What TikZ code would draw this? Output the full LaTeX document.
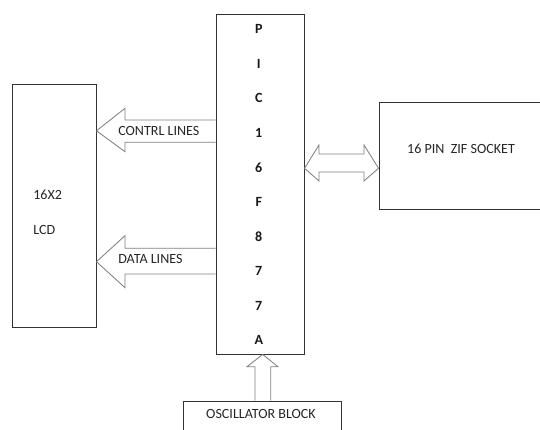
\documentclass[tikz,border=0pt]{standalone}
\usepackage{fontspec}
\setmainfont{Carlito}
\usetikzlibrary{calc}

\begin{document}
\begin{tikzpicture}[
  block/.style={rectangle,draw=black!80,line width=0.7pt,inner sep=0pt},
  lbl/.style={font=\fontsize{10}{12}\selectfont,text=black!85,inner sep=0pt},
  pinlbl/.style={font=\fontsize{10}{12}\selectfont\bfseries,text=black!90,inner sep=0pt},
  fat/.style={draw=gray,line width=0.6pt,line join=miter}
]
\useasboundingbox (0,0) rectangle (13.5,-10.75);
\node[block,minimum width=2.2cm,minimum height=8.5cm]    (pic) at (6.5,-4.6) {};
\node[block,minimum width=2.1cm,minimum height=6.075cm]  (lcd) at (1.35,-5.1375) {};
\node[block,minimum width=4.3cm,minimum height=2.675cm]  (zif) at (11.625,-3.8875) {};
\node[block,minimum width=3.95cm,minimum height=1.0cm]   (osc) at (6.55,-10.525) {};

\foreach \ch [count=\i from 0] in {P,I,C,1,6,F,8,7,7,A}
  \node[pinlbl] (pin\i) at (6.47,-0.725-0.865*\i) {\ch};

\node[lbl,anchor=west] (lcdtop) at (0.825,-4.875) {16X2};
\node[lbl,anchor=west] (lcdbot) at (0.825,-5.75) {LCD};
\node[lbl] (ziftxt) at (11.525,-3.725) {16 PIN\ \ ZIF SOCKET};
\node[lbl] (osctxt) at (6.525,-10.35) {OSCILLATOR BLOCK};

\coordinate (ctip) at (lcd.east |- 0,-3.27);
\draw[fat] (pic.west |- 0,-3.0) -- (3.125,-3.0) -- (3.125,-2.7075) -- (ctip)
  -- (3.125,-3.7925) -- (3.125,-3.5575) -- (pic.west |- 0,-3.5575);
\node[lbl,anchor=west] (ctrltxt) at (2.95,-3.275) {CONTRL LINES};

\coordinate (dtip) at (lcd.east |- 0,-6.5425);
\draw[fat] (pic.west |- 0,-6.2075) -- (3.125,-6.2075) -- (3.125,-5.8925) -- (dtip)
  -- (3.125,-7.1925) -- (3.125,-6.85) -- (pic.west |- 0,-6.85);
\node[lbl,anchor=west] (datatxt) at (2.95,-6.475) {DATA LINES};

\coordinate (zl) at (pic.east |- 0,-4.2075);
\coordinate (zr) at (zif.west |- 0,-4.2075);
\draw[fat] (zl) -- (7.975,-3.625) -- (7.975,-3.85) -- (9.1,-3.85) -- (9.1,-3.625) -- (zr)
  -- (9.1,-4.525) -- (9.1,-4.3) -- (7.975,-4.3) -- (7.975,-4.525) -- cycle;

\coordinate (otip) at (6.5675,0 |- pic.south);
\draw[fat] (6.375,0 |- osc.north) -- (6.375,-9.1675) -- (6.175,-9.1675) -- (otip)
  -- (6.95,-9.1675) -- (6.7675,-9.1675) -- (6.7675,0 |- osc.north);
\end{tikzpicture}
\end{document}
